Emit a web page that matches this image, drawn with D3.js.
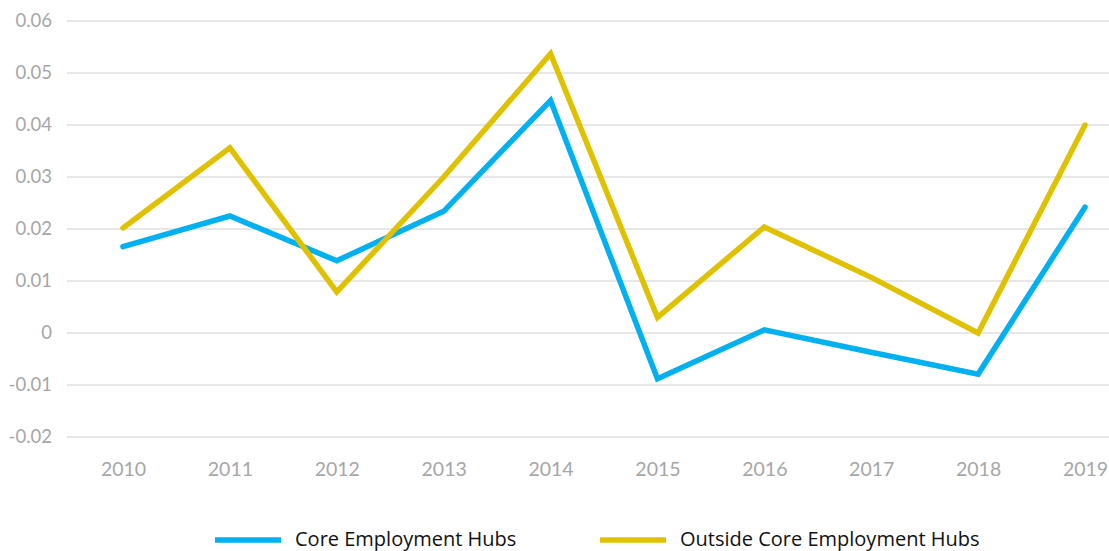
<!DOCTYPE html>
<html><head><meta charset="utf-8">
<script src="https://cdn.jsdelivr.net/npm/d3@7"></script>
<style>body{margin:0;background:#fff;}svg{display:block;font-family:Lato,"Open Sans",sans-serif;}</style>
</head><body>
<svg id="c" width="1109" height="551"></svg>
<script>
const years = ["2010","2011","2012","2013","2014","2015","2016","2017","2018","2019"];
const coreHubs = [0.0166,0.0225,0.0139,0.0234,0.0447,-0.0088,0.0006,-0.0037,-0.0079,0.0242];
const outsideHubs = [0.0202,0.0356,0.0079,0.0300,0.0537,0.0030,0.0204,0.0107,0.0000,0.0400];
const yTicks = [-0.02,-0.01,0,0.01,0.02,0.03,0.04,0.05,0.06];
const yTickLabels = ["-0.02","-0.01","0","0.01","0.02","0.03","0.04","0.05","0.06"];
const seriesNames = ["Core Employment Hubs","Outside Core Employment Hubs"];
const seriesColors = ["#00B0F0","#E0C100"];

const svg = d3.select("#c");
const x = d3.scalePoint().domain(years).range([123,1085]);
const y = d3.scaleLinear().domain([-0.02,0.06]).range([437,21]);

// gridlines
svg.append("g").selectAll("line").data(yTicks).join("line")
  .attr("x1",67).attr("x2",1109)
  .attr("y1",d=>y(d)).attr("y2",d=>y(d))
  .attr("stroke","#d0d0d0").attr("stroke-width",1.2);

// y axis labels
const yAxis = d3.axisLeft(y).tickValues(yTicks).tickFormat((d,i)=>yTickLabels[i]).tickSize(0).tickPadding(0);
const ya = svg.append("g").attr("transform","translate(52,0)").call(yAxis);
ya.select(".domain").remove();
ya.selectAll("text").attr("fill","#a6a6a6").attr("font-size",18.5).attr("font-family","Lato,'Open Sans',sans-serif");

// x axis labels
const xAxis = d3.axisBottom(x).tickSize(0).tickPadding(0);
const xa = svg.append("g").attr("transform","translate(0,462)").call(xAxis);
xa.select(".domain").remove();
xa.selectAll("text").attr("fill","#a6a6a6").attr("font-size",19.5).attr("font-family","Lato,'Open Sans',sans-serif");

// lines
const line = d3.line().x((d,i)=>x(years[i])).y(d=>y(d));
[coreHubs,outsideHubs].forEach((s,k)=>{
  svg.append("path").datum(s).attr("d",line)
    .attr("fill","none").attr("stroke",seriesColors[k]).attr("stroke-width",5.5)
    .attr("stroke-linecap","round").attr("stroke-linejoin","miter");
});

// legend
const legX = [215,600];
seriesNames.forEach((n,k)=>{
  const g = svg.append("g").attr("transform",`translate(${legX[k]},540)`);
  g.append("line").attr("x1",0).attr("x2",66).attr("y1",0).attr("y2",0)
    .attr("stroke",seriesColors[k]).attr("stroke-width",5.5);
  g.append("text").attr("x",80).attr("y",0).attr("dy","0.3em")
    .attr("font-family","'Open Sans',Lato,sans-serif")
    .attr("font-size",20).attr("fill","#111").text(n);
});
</script>
</body></html>
